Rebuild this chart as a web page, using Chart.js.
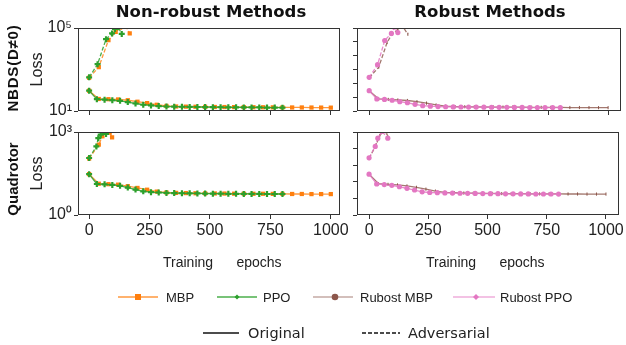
<!DOCTYPE html>
<html lang="en">
<head>
<meta charset="UTF-8">
<title>Loss curves</title>
<script src="https://cdn.jsdelivr.net/npm/chart.js"></script>
<style>
  body { margin: 0; background: #fff; }
  #fig { position: relative; width: 626px; height: 345px; overflow: hidden; font-family: "Liberation Sans", Arial, sans-serif; color: #222; }
  #fig canvas { position: absolute; left: 0; top: 0; }
  .txt { position: absolute; white-space: pre; line-height: 1; }
  .title { font-family: "DejaVu Sans", sans-serif; font-weight: bold; font-size: 16.5px; color: #111; transform: translate(-50%, -50%); }
  .row { font-weight: bold; font-size: 15px; color: #111; transform: translate(-50%, -50%) rotate(-90deg); }
  .xlab { font-size: 14px; transform: translateY(-50%); }
  .leg { font-size: 13px; transform: translateY(-50%); }
  .leg2 { font-family: "DejaVu Sans", sans-serif; font-size: 14.5px; transform: translateY(-50%); }
  svg { position: absolute; overflow: visible; }
</style>
</head>
<body>
<div id="fig">
  <canvas id="tl" width="626" height="345"></canvas>
  <canvas id="tr" width="626" height="345"></canvas>
  <canvas id="bl" width="626" height="345"></canvas>
  <canvas id="br" width="626" height="345"></canvas>

  <div class="txt title" style="left:211px; top:12px;">Non-robust Methods</div>
  <div class="txt title" style="left:490px; top:12px;">Robust Methods</div>
  <div class="txt row" style="left:12px; top:68px; letter-spacing:0.8px;">NBDS(D≠0)</div>
  <div class="txt row" style="left:12px; top:179px;">Quadrotor</div>
  <div class="txt xlab" style="left:163px; top:262px;">Training      epochs</div>
  <div class="txt xlab" style="left:426px; top:262px;">Training      epochs</div>

  <!-- legend -->
  <svg style="left:0; top:0;" width="626" height="345">
    <line x1="118" y1="297" x2="158" y2="297" stroke="rgba(255,127,14,0.8)" stroke-width="1.3"/>
    <rect x="135" y="294" width="6" height="6" fill="#ff7f0e"/>
    <line x1="217" y1="297" x2="257" y2="297" stroke="rgba(44,160,44,0.85)" stroke-width="1.3"/>
    <polygon points="237,294.5 239.5,297 237,299.5 234.5,297" fill="#2ca02c"/>
    <line x1="313" y1="297" x2="353" y2="297" stroke="rgba(140,86,75,0.5)" stroke-width="1.3"/>
    <circle cx="335" cy="297" r="3.3" fill="#8c564b"/>
    <line x1="453" y1="297" x2="495" y2="297" stroke="rgba(227,119,194,0.6)" stroke-width="1.3"/>
    <polygon points="476,294 479,297 476,300 473,297" fill="#e377c2"/>
    <line x1="203" y1="333" x2="239" y2="333" stroke="#111" stroke-width="1.5"/>
    <line x1="362" y1="333" x2="400" y2="333" stroke="#111" stroke-width="1.3" stroke-dasharray="4,2"/>
  </svg>
  <div class="txt leg" style="left:166px; top:297px;">MBP</div>
  <div class="txt leg" style="left:263px; top:297px;">PPO</div>
  <div class="txt leg" style="left:360px; top:297px;">Rubost MBP</div>
  <div class="txt leg" style="left:500px; top:297px;">Rubost PPO</div>
  <div class="txt leg2" style="left:248px; top:333px;">Original</div>
  <div class="txt leg2" style="left:408px; top:333px;">Adversarial</div>
</div>

<script>
// ---- data ----
const epochsMBP = [0, 40, 80, 120, 160, 200, 240, 280, 320, 360, 400, 440, 480, 520, 560, 600, 640, 680, 720, 760, 800, 840, 880, 920, 960, 1000];
const epochsPPO = [0, 32, 64, 96, 128, 160, 192, 224, 256, 288, 320, 352, 384, 416, 448, 480, 512, 544, 576, 608, 640, 672, 704, 736, 768, 800];

// NBDS, original training
const nbdsMBP  = [95, 38, 37, 36, 33, 28, 24, 20, 17.5, 16.5, 16.2, 16, 15.8, 15.6, 15.5, 15.4, 15.3, 15.2, 15.1, 15, 14.9, 14.8, 14.8, 14.7, 14.6, 14.5];
const nbdsPPO  = [95, 37, 35, 33, 31, 27, 23, 20, 18.5, 17.2, 16.5, 16.2, 16, 15.8, 15.6, 15.5, 15.3, 15.2, 15.1, 15, 14.9, 14.8, 14.8, 14.7, 14.6, 14.5];
const nbdsRMBP = [95, 38, 36, 34, 32, 28, 24, 19.5, 17, 16.2, 16, 15.8, 15.6, 15.5, 15.4, 15.3, 15.2, 15.1, 15, 14.9, 14.8, 14.7, 14.7, 14.6, 14.5, 14.5];
const nbdsRPPO = [95, 38, 36, 33, 28, 25, 21, 18, 17, 16.3, 16, 15.8, 15.6, 15.5, 15.4, 15.3, 15.2, 15.1, 15, 14.9, 14.8, 14.7, 14.7, 14.6, 14.6, 14.5];

// NBDS, adversarial (diverging)
const nbdsAdvEpMBP  = [0, 40, 80, 110, 128, 150, 168];
const nbdsAdvMBP    = [400, 1300, 26000, 65000, 105000, 130000, 55000];
const nbdsAdvEpPPO  = [0, 35, 70, 95, 107, 120, 135];
const nbdsAdvPPO    = [420, 1800, 29000, 55000, 90000, 110000, 52000];
const nbdsAdvEpRMBP = [0, 40, 75, 95, 120, 140, 162];
const nbdsAdvRMBP   = [400, 1300, 20000, 50000, 85000, 120000, 50000];
const nbdsAdvEpRPPO = [0, 35, 65, 93, 106, 120];
const nbdsAdvRPPO   = [420, 1700, 25000, 55000, 110000, 60000];

// Quadrotor, original training
const quadMBP  = [30, 13.5, 13, 12.5, 11, 9.5, 8.2, 7, 6.5, 6.3, 6.2, 6.1, 6.05, 6, 5.95, 5.9, 5.9, 5.85, 5.85, 5.8, 5.8, 5.75, 5.75, 5.7, 5.7, 5.7];
const quadPPO  = [30, 13.2, 12.8, 12.2, 11.3, 9.8, 8.3, 7.2, 6.7, 6.5, 6.3, 6.2, 6.1, 6.05, 6, 5.95, 5.9, 5.9, 5.85, 5.85, 5.8, 5.8, 5.8, 5.75, 5.75, 5.75];
const quadRMBP = [30, 13.5, 12.8, 12.2, 11.2, 10, 8.6, 7.3, 6.6, 6.4, 6.2, 6.1, 6.05, 6, 5.95, 5.9, 5.9, 5.85, 5.8, 5.8, 5.8, 5.75, 5.75, 5.7, 5.7, 5.7];
const quadRPPO = [30, 13.2, 12.6, 11.8, 10.5, 9.2, 8, 6.9, 6.5, 6.4, 6.3, 6.2, 6.1, 6.05, 6, 5.95, 5.9, 5.9, 5.85, 5.85, 5.8, 5.8, 5.75, 5.75, 5.75, 5.7];

// Quadrotor, adversarial
const quadAdvEpMBP  = [0, 40, 55, 70, 85, 95];
const quadAdvMBP    = [110, 350, 700, 1050, 950, 640];
const quadAdvEpPPO  = [0, 30, 38, 48, 58, 70];
const quadAdvPPO    = [115, 300, 600, 800, 1050, 850];
const quadAdvEpRMBP = [0, 30, 45, 60, 75, 80];
const quadAdvRMBP   = [110, 350, 750, 1050, 900, 640];
const quadAdvEpRPPO = [0, 26, 37, 55, 79];
const quadAdvRPPO   = [117, 300, 600, 1050, 600];

// axes
const xTicks = [0, 250, 500, 750, 1000];
const nbdsTicksLeft  = [10, 100000];
const nbdsLabelsLeft = ['10¹', '10⁵'];
const nbdsTicksRight = [10, 46.4, 215.4, 1000, 4642, 21544, 100000];
const quadTicksLeft  = [1, 1000];
const quadLabelsLeft = ['10⁰', '10³'];
const quadTicksRight = [1, 3.98, 15.85, 63.1, 251.2, 1000];

// ---- drawing ----
const fam = '"Liberation Sans", Arial, sans-serif';

const look = {
  MBP:  { color: '#ff7f0e', line: 'rgba(255,127,14,0.8)', pointStyle: 'rect', pointRadius: 3, pointBorderWidth: 0, order: 2 },
  PPO:  { color: '#2ca02c', line: 'rgba(44,160,44,0.85)', pointStyle: 'cross', pointRadius: 3, pointBorderWidth: 2.2, order: 1 },
  RMBP: { color: '#8c564b', line: 'rgba(140,86,75,0.8)', pointStyle: 'line', pointRadius: 1.6, pointBorderWidth: 1, order: 2 },
  RPPO: { color: '#e377c2', line: 'rgba(227,119,194,0.85)', pointStyle: 'circle', pointRadius: 2.6, pointBorderWidth: 0, order: 1 }
};

function series(kind, xs, ys, dashed) {
  const s = look[kind];
  return {
    data: xs.map((x, i) => ({ x: x, y: ys[i] })),
    borderColor: s.line,
    borderWidth: 1.3,
    borderDash: dashed ? [4, 2] : [],
    pointStyle: s.pointStyle,
    pointRotation: kind === 'RMBP' ? 90 : 0,
    pointRadius: s.pointRadius,
    pointBorderWidth: s.pointBorderWidth,
    pointBackgroundColor: s.color,
    pointBorderColor: s.color,
    tension: 0,
    order: s.order
  };
}

const boxPlugin = {
  id: 'box',
  afterDraw(chart) {
    const a = chart.chartArea;
    const ctx = chart.ctx;
    ctx.save();
    ctx.strokeStyle = '#333';
    ctx.lineWidth = 1;
    ctx.strokeRect(Math.round(a.left) + 0.5, Math.round(a.top) + 0.5, Math.round(a.right - a.left) - 1, Math.round(a.bottom - a.top) - 1);
    ctx.restore();
  }
};

function panel(id, box, yMin, yMax, yTickVals, yTickLabels, xMin, xMax, showX, showTitle, datasets) {
  new Chart(document.getElementById(id), {
    type: 'line',
    data: { datasets: datasets },
    options: {
      responsive: false,
      animation: false,
      layout: { padding: { left: 0, top: box.top, right: 626 - box.right, bottom: 345 - box.bottom - 30 } },
      plugins: { legend: { display: false }, tooltip: { enabled: false } },
      scales: {
        x: {
          type: 'linear', min: xMin, max: xMax,
          afterBuildTicks: s => { s.ticks = xTicks.map(v => ({ value: v })); },
          afterFit: s => { s.height = 30; },
          ticks: { autoSkip: false, maxRotation: 0, padding: 2, color: '#222', font: { family: fam, size: 16 },
                   callback: v => showX ? String(v) : '' },
          grid: { drawOnChartArea: false, drawTicks: true, tickLength: 4, color: '#333' },
          border: { display: false }
        },
        y: {
          type: 'logarithmic', min: yMin, max: yMax,
          afterBuildTicks: s => { s.ticks = yTickVals.map(v => ({ value: v })); },
          afterFit: s => { s.width = box.left; },
          ticks: { autoSkip: false, padding: 2, color: '#222', font: { family: fam, size: 16 },
                   callback: (v, i) => (yTickLabels && yTickLabels[i]) || '' },
          grid: { drawOnChartArea: false, drawTicks: true, tickLength: 4, color: '#333' },
          border: { display: false },
          title: { display: showTitle, text: 'Loss', color: '#222', font: { family: fam, size: 16 }, padding: { top: 28 } }
        }
      }
    },
    plugins: [boxPlugin]
  });
}

const boxTL = { left: 78, right: 340, top: 28, bottom: 111 };
const boxTR = { left: 357, right: 623, top: 28, bottom: 111 };
const boxBL = { left: 78, right: 340, top: 132, bottom: 215 };
const boxBR = { left: 357, right: 623, top: 132, bottom: 215 };

panel('tl', boxTL, 10, 100000, nbdsTicksLeft, nbdsLabelsLeft, -46, 1038, false, true, [
  series('MBP', epochsMBP, nbdsMBP, false),
  series('PPO', epochsPPO, nbdsPPO, false),
  series('MBP', nbdsAdvEpMBP, nbdsAdvMBP, true),
  series('PPO', nbdsAdvEpPPO, nbdsAdvPPO, true)
]);

panel('tr', boxTR, 10, 100000, nbdsTicksRight, null, -51, 1054, false, false, [
  series('RMBP', epochsMBP, nbdsRMBP, false),
  series('RPPO', epochsPPO, nbdsRPPO, false),
  series('RMBP', nbdsAdvEpRMBP, nbdsAdvRMBP, true),
  series('RPPO', nbdsAdvEpRPPO, nbdsAdvRPPO, true)
]);

panel('bl', boxBL, 1, 1000, quadTicksLeft, quadLabelsLeft, -46, 1038, true, true, [
  series('MBP', epochsMBP, quadMBP, false),
  series('PPO', epochsPPO, quadPPO, false),
  series('MBP', quadAdvEpMBP, quadAdvMBP, true),
  series('PPO', quadAdvEpPPO, quadAdvPPO, true)
]);

panel('br', boxBR, 1, 1000, quadTicksRight, null, -51, 1054, true, false, [
  series('RMBP', epochsMBP, quadRMBP, false),
  series('RPPO', epochsPPO, quadRPPO, false),
  series('RMBP', quadAdvEpRMBP, quadAdvRMBP, true),
  series('RPPO', quadAdvEpRPPO, quadAdvRPPO, true)
]);
</script>
</body>
</html>
